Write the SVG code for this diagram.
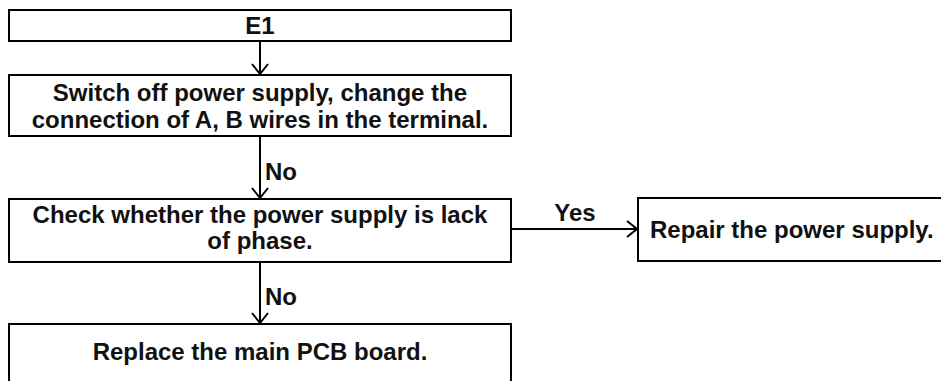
<svg xmlns="http://www.w3.org/2000/svg" width="941" height="381" viewBox="0 0 941 381">
<style>
.box{fill:#fff;stroke:#000;stroke-width:2}
.t{font-family:"Liberation Sans",Arial,sans-serif;font-weight:bold;font-size:24px;fill:#111;text-anchor:middle}
.l{font-family:"Liberation Sans",Arial,sans-serif;font-weight:bold;font-size:24px;fill:#111}
.c{stroke:#000;stroke-width:2;fill:none}
</style>
<defs>
<marker id="arr" viewBox="0 0 12 18" refX="11" refY="9" markerWidth="12" markerHeight="18" markerUnits="userSpaceOnUse" orient="auto">
<path d="M1,1 L11,9 L1,17" fill="none" stroke="#000" stroke-width="2"/>
</marker>
</defs>
<rect width="941" height="381" fill="#fff"/>
<g id="connectors">
<line class="c" x1="260" y1="41" x2="260" y2="74" marker-end="url(#arr)"/>
<line class="c" x1="260" y1="136" x2="260" y2="198" marker-end="url(#arr)"/>
<text class="l" x="265" y="180">No</text>
<line class="c" x1="260" y1="262" x2="260" y2="323" marker-end="url(#arr)"/>
<text class="l" x="265" y="305">No</text>
<line class="c" x1="511" y1="229" x2="637" y2="229" marker-end="url(#arr)"/>
<text class="t" x="575" y="221">Yes</text>
</g>
<g id="e1">
<rect class="box" x="9" y="10" width="502" height="31"/>
<text class="t" x="260" y="34">E1</text>
</g>
<g id="switch">
<rect class="box" x="9" y="75" width="502" height="61"/>
<text class="t" x="260" y="101">Switch off power supply, change the</text>
<text class="t" x="260" y="128">connection of A, B wires in the terminal.</text>
</g>
<g id="check">
<rect class="box" x="9" y="199" width="502" height="63"/>
<text class="t" x="260" y="223">Check whether the power supply is lack</text>
<text class="t" x="260" y="249">of phase.</text>
</g>
<g id="replace">
<rect class="box" x="9" y="324" width="502" height="70"/>
<text class="t" x="260" y="360">Replace the main PCB board.</text>
</g>
<g id="repair">
<rect class="box" x="638" y="198" width="320" height="63"/>
<text class="l" x="650" y="238">Repair the power supply.</text>
</g>
</svg>
